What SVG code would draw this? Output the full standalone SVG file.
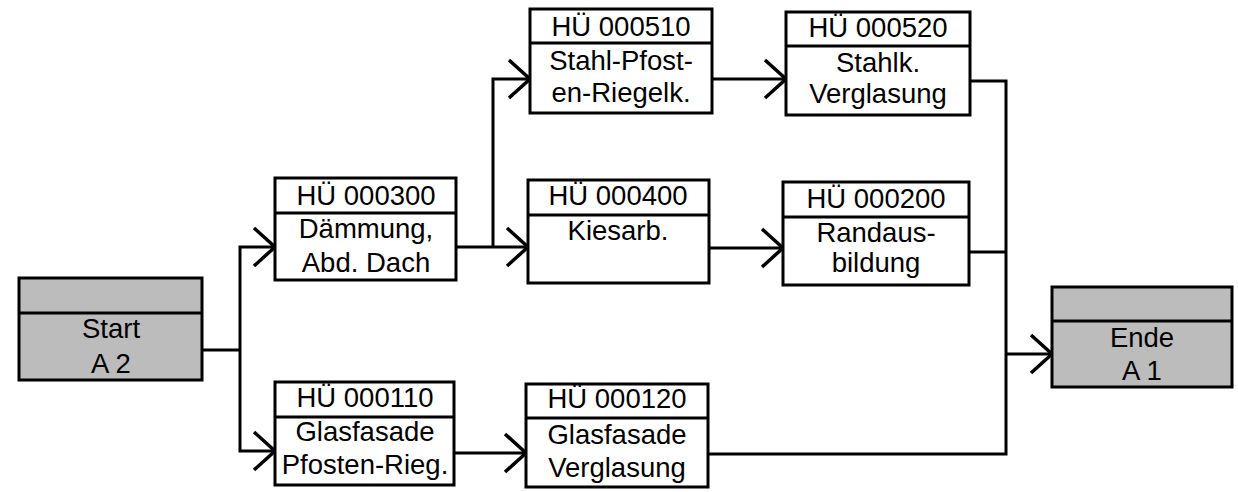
<svg xmlns="http://www.w3.org/2000/svg" width="1238" height="492" viewBox="0 0 1238 492">
<defs>
<style>
.box{fill:#ffffff;stroke:#000;stroke-width:3}
.term{fill:#bcbcbc;stroke:#000;stroke-width:3}
.div{stroke:#000;stroke-width:3;fill:none}
.t{font-family:"Liberation Sans",Arial,sans-serif;font-size:27.5px;fill:#000;text-anchor:middle}
.c{fill:none;stroke:#000;stroke-width:3}
.a{fill:none;stroke:#000;stroke-width:3;marker-end:url(#chev)}
</style>
<marker id="chev" markerUnits="userSpaceOnUse" markerWidth="30" markerHeight="44" refX="24" refY="22" orient="auto" viewBox="0 0 30 44">
<path d="M3 3 L24 22 L3 41" fill="none" stroke="#000" stroke-width="3.5"/>
</marker>
</defs>
<rect width="1238" height="492" fill="#ffffff"/>

<g id="connectors">
<path class="c" d="M202 350 H240"/>
<path class="a" d="M240 350 V247 H275"/>
<path class="a" d="M240 350 V451 H275"/>
<path class="a" d="M456 247 H528"/>
<path class="a" d="M493 247 V79 H530"/>
<path class="a" d="M712 79 H786"/>
<path class="a" d="M709 248 H783"/>
<path class="a" d="M454 453 H526"/>
<path class="c" d="M970 81 H1006 V454 H708"/>
<path class="c" d="M969 252 H1006"/>
<path class="a" d="M1006 354 H1052"/>
</g>

<g id="start">
<rect class="term" x="19" y="278" width="183" height="102"/>
<line class="div" x1="19" y1="313" x2="202" y2="313"/>
<text class="t" x="111" y="338">Start</text>
<text class="t" x="111" y="373">A 2</text>
</g>

<g id="hu000300">
<rect class="box" x="275" y="178" width="181" height="102"/>
<line class="div" x1="275" y1="213" x2="456" y2="213"/>
<text class="t" x="366" y="205">HÜ 000300</text>
<text class="t" x="366" y="238">Dämmung,</text>
<text class="t" x="366" y="272">Abd. Dach</text>
</g>

<g id="hu000110">
<rect class="box" x="275" y="382" width="179" height="103"/>
<line class="div" x1="275" y1="417" x2="454" y2="417"/>
<text class="t" x="365" y="407">HÜ 000110</text>
<text class="t" x="365" y="441">Glasfasade</text>
<text class="t" x="365" y="474">Pfosten-Rieg.</text>
</g>

<g id="hu000510">
<rect class="box" x="530" y="9" width="182" height="104"/>
<line class="div" x1="530" y1="43" x2="712" y2="43"/>
<text class="t" x="621" y="36">HÜ 000510</text>
<text class="t" x="621" y="70">Stahl-Pfost-</text>
<text class="t" x="621" y="102">en-Riegelk.</text>
</g>

<g id="hu000400">
<rect class="box" x="528" y="180" width="181" height="103"/>
<line class="div" x1="528" y1="215" x2="709" y2="215"/>
<text class="t" x="618" y="205">HÜ 000400</text>
<text class="t" x="618" y="240">Kiesarb.</text>
</g>

<g id="hu000120">
<rect class="box" x="526" y="384" width="182" height="103"/>
<line class="div" x1="526" y1="418" x2="708" y2="418"/>
<text class="t" x="617" y="408">HÜ 000120</text>
<text class="t" x="617" y="444">Glasfasade</text>
<text class="t" x="617" y="477">Verglasung</text>
</g>

<g id="hu000520">
<rect class="box" x="786" y="12" width="184" height="103"/>
<line class="div" x1="786" y1="46" x2="970" y2="46"/>
<text class="t" x="878" y="37">HÜ 000520</text>
<text class="t" x="878" y="72">Stahlk.</text>
<text class="t" x="878" y="103">Verglasung</text>
</g>

<g id="hu000200">
<rect class="box" x="783" y="182" width="186" height="103"/>
<line class="div" x1="783" y1="217" x2="969" y2="217"/>
<text class="t" x="876" y="208">HÜ 000200</text>
<text class="t" x="876" y="242">Randaus-</text>
<text class="t" x="876" y="272">bildung</text>
</g>

<g id="ende">
<rect class="term" x="1052" y="287" width="180" height="100"/>
<line class="div" x1="1052" y1="321" x2="1232" y2="321"/>
<text class="t" x="1142" y="347">Ende</text>
<text class="t" x="1142" y="380">A 1</text>
</g>
</svg>
